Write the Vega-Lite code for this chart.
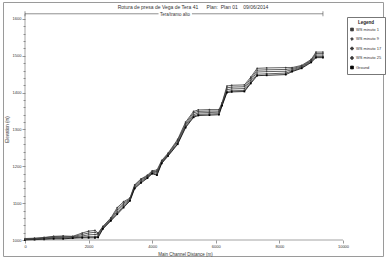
{
  "$schema": "https://vega.github.io/schema/vega-lite/v6.json",
  "width": 380,
  "height": 254,
  "autosize": {"type": "none"},
  "padding": {"left": 3, "top": 2, "right": 5, "bottom": 3},
  "background": "white",
  "config": {
    "font": "Liberation Sans",
    "view": {"stroke": "#9a9a9a", "strokeWidth": 1},
    "axis": {"grid": false, "domain": false, "labelOverlap": false, "labelFlush": false, "labelBound": false, "labelFont": "Liberation Sans", "titleFont": "Liberation Sans", "labelColor": "#333", "titleColor": "#333", "tickColor": "#555", "titleFontWeight": "normal"}
  },
  "title": {
    "text": "Rotura de presa de Vega de Tera 41\u00a0\u00a0\u00a0\u00a0\u00a0\u00a0Plan:\u00a0 Plan 01\u00a0\u00a0\u00a0\u00a009/06/2014",
    "fontSize": 5,
    "fontWeight": "normal",
    "color": "#333",
    "anchor": "middle",
    "offset": -8,
    "font": "Liberation Sans"
  },
  "resolve": {"axis": {"y": "independent"}},
  "datasets": {
    "profiles": [
      {"x": 0, "ground": 1000, "ws1": 1001, "ws9": 1002, "ws17": 1003, "ws25": 1004},
      {"x": 300, "ground": 1001, "ws1": 1002, "ws9": 1003, "ws17": 1004, "ws25": 1005},
      {"x": 600, "ground": 1002, "ws1": 1003, "ws9": 1005, "ws17": 1006, "ws25": 1007},
      {"x": 900, "ground": 1003, "ws1": 1005, "ws9": 1007, "ws17": 1009, "ws25": 1010},
      {"x": 1200, "ground": 1003, "ws1": 1005, "ws9": 1007, "ws17": 1009, "ws25": 1011},
      {"x": 1500, "ground": 1005, "ws1": 1006, "ws9": 1008, "ws17": 1009, "ws25": 1010},
      {"x": 1800, "ground": 1006, "ws1": 1008, "ws9": 1011, "ws17": 1015, "ws25": 1019},
      {"x": 2000, "ground": 1006, "ws1": 1009, "ws9": 1014, "ws17": 1019, "ws25": 1024},
      {"x": 2200, "ground": 1006, "ws1": 1009, "ws9": 1015, "ws17": 1021, "ws25": 1026},
      {"x": 2300, "ground": 1007, "ws1": 1010, "ws9": 1014, "ws17": 1017, "ws25": 1019},
      {"x": 2450, "ground": 1030, "ws1": 1032, "ws9": 1034, "ws17": 1036, "ws25": 1037},
      {"x": 2700, "ground": 1052, "ws1": 1054, "ws9": 1056, "ws17": 1058, "ws25": 1060},
      {"x": 2900, "ground": 1070, "ws1": 1073, "ws9": 1078, "ws17": 1083, "ws25": 1088},
      {"x": 3100, "ground": 1088, "ws1": 1092, "ws9": 1096, "ws17": 1100, "ws25": 1104},
      {"x": 3300, "ground": 1106, "ws1": 1108, "ws9": 1110, "ws17": 1112, "ws25": 1114},
      {"x": 3450, "ground": 1140, "ws1": 1142, "ws9": 1145, "ws17": 1148, "ws25": 1150},
      {"x": 3650, "ground": 1155, "ws1": 1158, "ws9": 1161, "ws17": 1164, "ws25": 1166},
      {"x": 3850, "ground": 1168, "ws1": 1170, "ws9": 1172, "ws17": 1174, "ws25": 1176},
      {"x": 4000, "ground": 1180, "ws1": 1182, "ws9": 1184, "ws17": 1186, "ws25": 1188},
      {"x": 4150, "ground": 1176, "ws1": 1178, "ws9": 1182, "ws17": 1186, "ws25": 1190},
      {"x": 4300, "ground": 1208, "ws1": 1210, "ws9": 1212, "ws17": 1214, "ws25": 1216},
      {"x": 4500, "ground": 1228, "ws1": 1230, "ws9": 1232, "ws17": 1234, "ws25": 1236},
      {"x": 4800, "ground": 1260, "ws1": 1262, "ws9": 1266, "ws17": 1270, "ws25": 1273},
      {"x": 5050, "ground": 1305, "ws1": 1308, "ws9": 1312, "ws17": 1316, "ws25": 1320},
      {"x": 5300, "ground": 1333, "ws1": 1336, "ws9": 1340, "ws17": 1345, "ws25": 1349},
      {"x": 5450, "ground": 1338, "ws1": 1341, "ws9": 1345, "ws17": 1349, "ws25": 1353},
      {"x": 5800, "ground": 1339, "ws1": 1342, "ws9": 1346, "ws17": 1350, "ws25": 1354},
      {"x": 6100, "ground": 1340, "ws1": 1343, "ws9": 1347, "ws17": 1350, "ws25": 1354},
      {"x": 6200, "ground": 1365, "ws1": 1367, "ws9": 1369, "ws17": 1371, "ws25": 1373},
      {"x": 6350, "ground": 1400, "ws1": 1403, "ws9": 1408, "ws17": 1413, "ws25": 1418},
      {"x": 6500, "ground": 1402, "ws1": 1405, "ws9": 1410, "ws17": 1415, "ws25": 1420},
      {"x": 6900, "ground": 1403, "ws1": 1406, "ws9": 1411, "ws17": 1416, "ws25": 1421},
      {"x": 7100, "ground": 1425, "ws1": 1428, "ws9": 1433, "ws17": 1438, "ws25": 1442},
      {"x": 7300, "ground": 1446, "ws1": 1450, "ws9": 1456, "ws17": 1461, "ws25": 1466},
      {"x": 7600, "ground": 1447, "ws1": 1451, "ws9": 1457, "ws17": 1462, "ws25": 1467},
      {"x": 8200, "ground": 1449, "ws1": 1453, "ws9": 1458, "ws17": 1463, "ws25": 1468},
      {"x": 8400, "ground": 1457, "ws1": 1459, "ws9": 1462, "ws17": 1465, "ws25": 1468},
      {"x": 8700, "ground": 1466, "ws1": 1468, "ws9": 1470, "ws17": 1472, "ws25": 1474},
      {"x": 9000, "ground": 1482, "ws1": 1484, "ws9": 1486, "ws17": 1488, "ws25": 1490},
      {"x": 9150, "ground": 1495, "ws1": 1498, "ws9": 1502, "ws17": 1506, "ws25": 1510},
      {"x": 9370, "ground": 1495, "ws1": 1498, "ws9": 1502, "ws17": 1506, "ws25": 1510}
    ],
    "reach": [
      {"start": 0, "end": 4200},
      {"start": 5250, "end": 9370}
    ],
    "reachEnds": [{"x": 0}, {"x": 9370}],
    "reachLabel": [{"x": 4720, "label": "Tera/tramo alto"}]
  },
  "layer": [
    {
      "data": {"name": "profiles"},
      "transform": [{"fold": ["ws1", "ws9", "ws17", "ws25", "ground"], "as": ["series", "elev"]}],
      "mark": {"type": "line", "strokeWidth": 0.8, "point": {"size": 3, "filled": true}},
      "encoding": {
        "x": {
          "field": "x", "type": "quantitative",
          "scale": {"domain": [-692, 11258], "nice": false, "zero": false},
          "axis": {
            "offset": -16,
            "values": [0,500,1000,1500,2000,2500,3000,3500,4000,4500,5000,5500,6000,6500,7000,7500,8000,8500,9000,9500,10000],
            "format": "d",
            "labelExpr": "datum.value % 2000 == 0 ? datum.label : ''",
            "tickSize": {"condition": {"test": "datum.value % 2000 == 0", "value": 3}, "value": 2},
            "tickWidth": 0.6,
            "labelFontSize": 4,
            "labelPadding": 1,
            "title": "Main Channel Distance (m)",
            "titleFontSize": 4.5,
            "titlePadding": 3,
            "titleX": 182
          }
        },
        "y": {
          "field": "elev", "type": "quantitative",
          "scale": {"domain": [956.6, 1646], "nice": false, "zero": false},
          "axis": {
            "orient": "left",
            "offset": -22,
            "values": [1000,1100,1200,1300,1400,1500,1600],
            "format": "d",
            "tickSize": 3,
            "tickWidth": 0.6,
            "labelFontSize": 4,
            "labelPadding": 1,
            "title": "Elevation (m)",
            "titleFontSize": 4.5,
            "titlePadding": 3
          }
        },
        "color": {
          "field": "series", "type": "nominal",
          "scale": {"domain": ["ws1", "ws9", "ws17", "ws25", "ground"], "range": ["#3a3a3a", "#3a3a3a", "#3a3a3a", "#3a3a3a", "#000000"]},
          "legend": {
            "orient": "none",
            "legendX": 344,
            "legendY": 15,
            "title": "Legend",
            "titleFontSize": 4.5,
            "titleFontWeight": "bold",
            "titleAnchor": "middle",
            "titleColor": "#222",
            "titlePadding": 3,
            "labelFontSize": 4,
            "labelColor": "#333",
            "labelExpr": "{'ws1':'WS minuto 1','ws9':'WS minuto 9','ws17':'WS minuto 17','ws25':'WS minuto 25','ground':'Ground'}[datum.value]",
            "strokeColor": "#777",
            "fillColor": "white",
            "padding": 3,
            "rowPadding": 1.5,
            "symbolSize": 8,
            "symbolStrokeWidth": 0.8,
            "labelOffset": 2
          }
        },
        "shape": {
          "field": "series", "type": "nominal",
          "scale": {"domain": ["ws1", "ws9", "ws17", "ws25", "ground"], "range": ["square", "diamond", "cross", "circle", "square"]},
          "legend": null
        }
      }
    },
    {
      "data": {"name": "reach"},
      "mark": {"type": "rule", "color": "#444", "strokeWidth": 0.6},
      "encoding": {
        "x": {"field": "start", "type": "quantitative"},
        "x2": {"field": "end"},
        "y": {"datum": 1614, "axis": null}
      }
    },
    {
      "data": {"name": "reachEnds"},
      "mark": {"type": "tick", "orient": "vertical", "color": "#444", "size": 5, "thickness": 0.8},
      "encoding": {
        "x": {"field": "x", "type": "quantitative"},
        "y": {"datum": 1614, "axis": null}
      }
    },
    {
      "data": {"name": "reachLabel"},
      "mark": {"type": "text", "fontSize": 4.5, "color": "#333", "font": "Liberation Sans", "align": "center", "baseline": "middle", "dy": 1.5},
      "encoding": {
        "x": {"field": "x", "type": "quantitative"},
        "y": {"datum": 1614, "axis": null},
        "text": {"field": "label"}
      }
    },
    {
      "data": {"values": [{"a": 0, "b": 10000}]},
      "mark": {"type": "rule", "color": "#666", "strokeWidth": 0.6},
      "encoding": {
        "x": {"field": "a", "type": "quantitative"},
        "x2": {"field": "b"},
        "y": {"datum": 1000, "axis": null}
      }
    },
    {
      "data": {"values": [{"lo": 1000, "hi": 1614}]},
      "mark": {"type": "rule", "color": "#666", "strokeWidth": 0.6},
      "encoding": {
        "x": {"datum": 0},
        "y": {
          "field": "lo", "type": "quantitative",
          "axis": {
            "orient": "left",
            "offset": -22,
            "values": [1020,1040,1060,1080,1120,1140,1160,1180,1220,1240,1260,1280,1320,1340,1360,1380,1420,1440,1460,1480,1520,1540,1560,1580],
            "labels": false,
            "tickSize": 2,
            "tickWidth": 0.6,
            "title": null
          }
        },
        "y2": {"field": "hi"}
      }
    }
  ]
}
